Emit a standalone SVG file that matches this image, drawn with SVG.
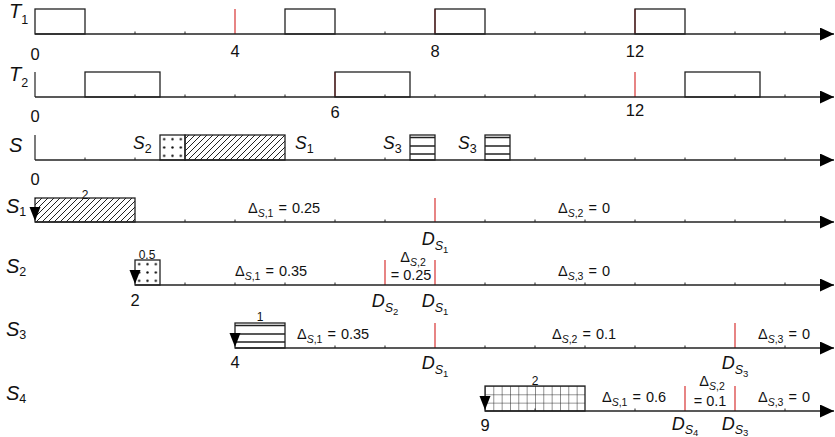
<svg xmlns="http://www.w3.org/2000/svg" width="835" height="437" viewBox="0 0 835 437">
<style>
text{font-family:"Liberation Sans",Arial,sans-serif;fill:#111}
.it{font-style:italic}
.lbl{font-size:20px}
.num{font-size:16.5px;text-anchor:middle}
.sm{font-size:12px;text-anchor:middle}
.dl{font-size:14.5px}
.dm{font-size:14.5px;text-anchor:middle}
.D{font-size:18px;text-anchor:middle}
.axis{stroke:#222;stroke-width:1.3;fill:none;marker-end:url(#arr)}
.tick{stroke:#222;stroke-width:1;fill:none}
.box{stroke:#222;stroke-width:1.3;fill:none}
.red{stroke:#d42020;stroke-width:1.1;fill:none}
.rel{fill:#000}
.bar{stroke:#222;stroke-width:1.2}
</style>
<defs>
<marker id="arr" markerUnits="userSpaceOnUse" markerWidth="15" markerHeight="14" refX="14" refY="6.5" orient="auto"><path d="M0,0 L14,6.5 L0,13 z" fill="#000"/></marker>
<pattern id="hatch" patternUnits="userSpaceOnUse" width="6" height="6"><path d="M-1,1 L1,-1 M0,6 L6,0 M5,7 L7,5" stroke="#222" stroke-width="1"/></pattern>
<pattern id="dots" patternUnits="userSpaceOnUse" x="1.667" y="1.667" width="8.333" height="8.333"><circle cx="4.167" cy="4.167" r="1.2" fill="#111"/></pattern>
<pattern id="grid" patternUnits="userSpaceOnUse" x="485" y="386" width="8.333" height="8.333"><path d="M0,0 H8.333 M0,0 V8.333" stroke="#222" stroke-width="1" fill="none"/></pattern>
</defs>

<g id="row-T1">
<line class="red" x1="235" y1="9" x2="235" y2="34"/>
<line class="red" x1="435" y1="9" x2="435" y2="34"/>
<line class="red" x1="635" y1="9" x2="635" y2="34"/>
<rect class="box" x="35" y="9" width="50" height="25"/>
<rect class="box" x="285" y="9" width="50" height="25"/>
<rect class="box" x="435" y="9" width="50" height="25"/>
<rect class="box" x="635" y="9" width="50" height="25"/>
<path class="tick" d="M135,34v-2.5M185,34v-2.5M385,34v-2.5M535,34v-2.5M585,34v-2.5M735,34v-2.5M785,34v-2.5"/>
<text x="9" y="18" class="lbl"><tspan class="it">T</tspan><tspan dy="6" font-size="12.5">1</tspan></text>
<text x="35" y="60" class="num">0</text>
<text x="235" y="57" class="num">4</text>
<text x="435" y="57" class="num">8</text>
<text x="635" y="57" class="num">12</text>
</g>

<g id="row-T2">
<line class="bar" x1="35" y1="72" x2="35" y2="97"/>
<line class="red" x1="335" y1="72" x2="335" y2="97"/>
<line class="red" x1="635" y1="72" x2="635" y2="97"/>
<rect class="box" x="85" y="72" width="75" height="25"/>
<rect class="box" x="335" y="72" width="75" height="25"/>
<rect class="box" x="685" y="72" width="75" height="25"/>
<path class="tick" d="M135,97v-2.5M185,97v-2.5M235,97v-2.5M285,97v-2.5M385,97v-2.5M435,97v-2.5M485,97v-2.5M535,97v-2.5M585,97v-2.5M735,97v-2.5M785,97v-2.5"/>
<text x="9" y="81" class="lbl"><tspan class="it">T</tspan><tspan dy="6" font-size="12.5">2</tspan></text>
<text x="35" y="122" class="num">0</text>
<text x="335" y="118" class="num">6</text>
<text x="635" y="116" class="num">12</text>
</g>

<g id="row-S">
<line class="bar" x1="35" y1="135" x2="35" y2="160"/>
<rect x="160" y="135" width="25" height="25" fill="url(#dots)"/>
<rect class="box" x="160" y="135" width="25" height="25"/>
<rect x="185" y="135" width="100" height="25" fill="url(#hatch)"/>
<rect class="box" x="185" y="135" width="100" height="25"/>
<rect class="box" x="410" y="135" width="25" height="25"/>
<path class="box" d="M410,137.5H435M410,146H435M410,154H435"/>
<rect class="box" x="485" y="135" width="25" height="25"/>
<path class="box" d="M485,137.5H510M485,146H510M485,154H510"/>
<path class="tick" d="M85,160v-2.5M135,160v-2.5M335,160v-2.5M385,160v-2.5M535,160v-2.5M585,160v-2.5M635,160v-2.5M685,160v-2.5M735,160v-2.5M785,160v-2.5"/>
<text x="9" y="152" class="lbl it">S</text>
<text x="133" y="149" font-size="17.5"><tspan class="it">S</tspan><tspan dy="4" font-size="12.5">2</tspan></text>
<text x="295" y="149" font-size="17.5"><tspan class="it">S</tspan><tspan dy="4" font-size="12.5">1</tspan></text>
<text x="383" y="149" font-size="17.5"><tspan class="it">S</tspan><tspan dy="4" font-size="12.5">3</tspan></text>
<text x="458" y="149" font-size="17.5"><tspan class="it">S</tspan><tspan dy="4" font-size="12.5">3</tspan></text>
<text x="35" y="185" class="num">0</text>
</g>

<g id="row-S1">
<rect x="35" y="198" width="100" height="24" fill="url(#hatch)"/>
<rect class="box" x="35" y="198" width="100" height="24"/>
<polygon class="rel" points="29.5,207 40.5,207 35,221"/>
<line class="red" x1="435" y1="198" x2="435" y2="222"/>
<path class="tick" d="M185,222v-2.5M235,222v-2.5M285,222v-2.5M335,222v-2.5M385,222v-2.5M485,222v-2.5M535,222v-2.5M585,222v-2.5M635,222v-2.5M685,222v-2.5M735,222v-2.5M785,222v-2.5"/>
<text x="6" y="213" class="lbl"><tspan class="it">S</tspan><tspan dy="3" font-size="12.5">1</tspan></text>
<text x="85" y="199" class="sm">2</text>
<text x="248" y="213" class="dl">Δ<tspan dy="4" font-size="10.5"><tspan class="it">S</tspan>,1</tspan><tspan dy="-4" dx="5">=</tspan><tspan dx="5">0.25</tspan></text>
<text x="558" y="213" class="dl">Δ<tspan dy="4" font-size="10.5"><tspan class="it">S</tspan>,2</tspan><tspan dy="-4" dx="5">=</tspan><tspan dx="5">0</tspan></text>
<text x="435" y="245" class="D"><tspan class="it">D</tspan><tspan dy="5" font-size="12.5" class="it">S</tspan><tspan dy="3" font-size="9.5">1</tspan></text>
</g>

<g id="row-S2">
<rect x="135" y="260" width="25" height="25" fill="url(#dots)"/>
<rect class="box" x="135" y="260" width="25" height="25"/>
<polygon class="rel" points="129.5,270 140.5,270 135,284"/>
<line class="red" x1="385" y1="260" x2="385" y2="285"/>
<line class="red" x1="435" y1="260" x2="435" y2="285"/>
<path class="tick" d="M185,285v-2.5M235,285v-2.5M285,285v-2.5M335,285v-2.5M485,285v-2.5M535,285v-2.5M585,285v-2.5M635,285v-2.5M685,285v-2.5M735,285v-2.5M785,285v-2.5"/>
<text x="6" y="273" class="lbl"><tspan class="it">S</tspan><tspan dy="3" font-size="12.5">2</tspan></text>
<text x="147" y="259" class="sm">0.5</text>
<text x="235" y="276" class="dl">Δ<tspan dy="4" font-size="10.5"><tspan class="it">S</tspan>,1</tspan><tspan dy="-4" dx="5">=</tspan><tspan dx="5">0.35</tspan></text>
<text x="413" y="262" class="dm">Δ<tspan dy="4" font-size="10.5"><tspan class="it">S</tspan>,2</tspan></text>
<text x="411" y="280" class="dm">= 0.25</text>
<text x="558" y="276" class="dl">Δ<tspan dy="4" font-size="10.5"><tspan class="it">S</tspan>,3</tspan><tspan dy="-4" dx="5">=</tspan><tspan dx="5">0</tspan></text>
<text x="135" y="306" class="num">2</text>
<text x="385" y="307" class="D"><tspan class="it">D</tspan><tspan dy="5" font-size="12.5" class="it">S</tspan><tspan dy="3" font-size="9.5">2</tspan></text>
<text x="435" y="307" class="D"><tspan class="it">D</tspan><tspan dy="5" font-size="12.5" class="it">S</tspan><tspan dy="3" font-size="9.5">1</tspan></text>
</g>

<g id="row-S3">
<rect class="box" x="235" y="323" width="50" height="25"/>
<path class="box" d="M235,325.5H285M235,334H285M235,342H285"/>
<polygon class="rel" points="229.5,333 240.5,333 235,347"/>
<line class="red" x1="435" y1="323" x2="435" y2="348"/>
<line class="red" x1="735" y1="323" x2="735" y2="348"/>
<path class="tick" d="M335,348v-2.5M385,348v-2.5M485,348v-2.5M535,348v-2.5M585,348v-2.5M635,348v-2.5M685,348v-2.5M785,348v-2.5"/>
<text x="6" y="336" class="lbl"><tspan class="it">S</tspan><tspan dy="3" font-size="12.5">3</tspan></text>
<text x="260" y="321" class="sm">1</text>
<text x="297" y="339" class="dl">Δ<tspan dy="4" font-size="10.5"><tspan class="it">S</tspan>,1</tspan><tspan dy="-4" dx="5">=</tspan><tspan dx="5">0.35</tspan></text>
<text x="552" y="339" class="dl">Δ<tspan dy="4" font-size="10.5"><tspan class="it">S</tspan>,2</tspan><tspan dy="-4" dx="5">=</tspan><tspan dx="5">0.1</tspan></text>
<text x="758" y="339" class="dl">Δ<tspan dy="4" font-size="10.5"><tspan class="it">S</tspan>,3</tspan><tspan dy="-4" dx="5">=</tspan><tspan dx="5">0</tspan></text>
<text x="235" y="368" class="num">4</text>
<text x="435" y="369" class="D"><tspan class="it">D</tspan><tspan dy="5" font-size="12.5" class="it">S</tspan><tspan dy="3" font-size="9.5">1</tspan></text>
<text x="735" y="369" class="D"><tspan class="it">D</tspan><tspan dy="5" font-size="12.5" class="it">S</tspan><tspan dy="3" font-size="9.5">3</tspan></text>
</g>

<g id="row-S4">
<rect x="485" y="386" width="100" height="25" fill="url(#grid)"/>
<rect class="box" x="485" y="386" width="100" height="25"/>
<polygon class="rel" points="479.5,396 490.5,396 485,410"/>
<line class="red" x1="685" y1="386" x2="685" y2="411"/>
<line class="red" x1="735" y1="386" x2="735" y2="411"/>
<path class="tick" d="M535,411v-2.5M635,411v-2.5M785,411v-2.5"/>
<text x="6" y="400" class="lbl"><tspan class="it">S</tspan><tspan dy="3" font-size="12.5">4</tspan></text>
<text x="535" y="385" class="sm">2</text>
<text x="602" y="402" class="dl">Δ<tspan dy="4" font-size="10.5"><tspan class="it">S</tspan>,1</tspan><tspan dy="-4" dx="5">=</tspan><tspan dx="5">0.6</tspan></text>
<text x="712" y="386" class="dm">Δ<tspan dy="4" font-size="10.5"><tspan class="it">S</tspan>,2</tspan></text>
<text x="710" y="406" class="dm">= 0.1</text>
<text x="758" y="402" class="dl">Δ<tspan dy="4" font-size="10.5"><tspan class="it">S</tspan>,3</tspan><tspan dy="-4" dx="5">=</tspan><tspan dx="5">0</tspan></text>
<text x="485" y="431" class="num">9</text>
<text x="685" y="430" class="D"><tspan class="it">D</tspan><tspan dy="4" font-size="12.5" class="it">S</tspan><tspan dy="2" font-size="9.5">4</tspan></text>
<text x="735" y="430" class="D"><tspan class="it">D</tspan><tspan dy="4" font-size="12.5" class="it">S</tspan><tspan dy="2" font-size="9.5">3</tspan></text>
</g>

<g id="connectors">
<line class="axis" x1="35" y1="34" x2="834" y2="34"/>
<line class="axis" x1="35" y1="97" x2="834" y2="97"/>
<line class="axis" x1="35" y1="160" x2="834" y2="160"/>
<line class="axis" x1="35" y1="222" x2="834" y2="222"/>
<line class="axis" x1="135" y1="285" x2="834" y2="285"/>
<line class="axis" x1="235" y1="348" x2="834" y2="348"/>
<line class="axis" x1="485" y1="411" x2="834" y2="411"/>
</g>
</svg>
